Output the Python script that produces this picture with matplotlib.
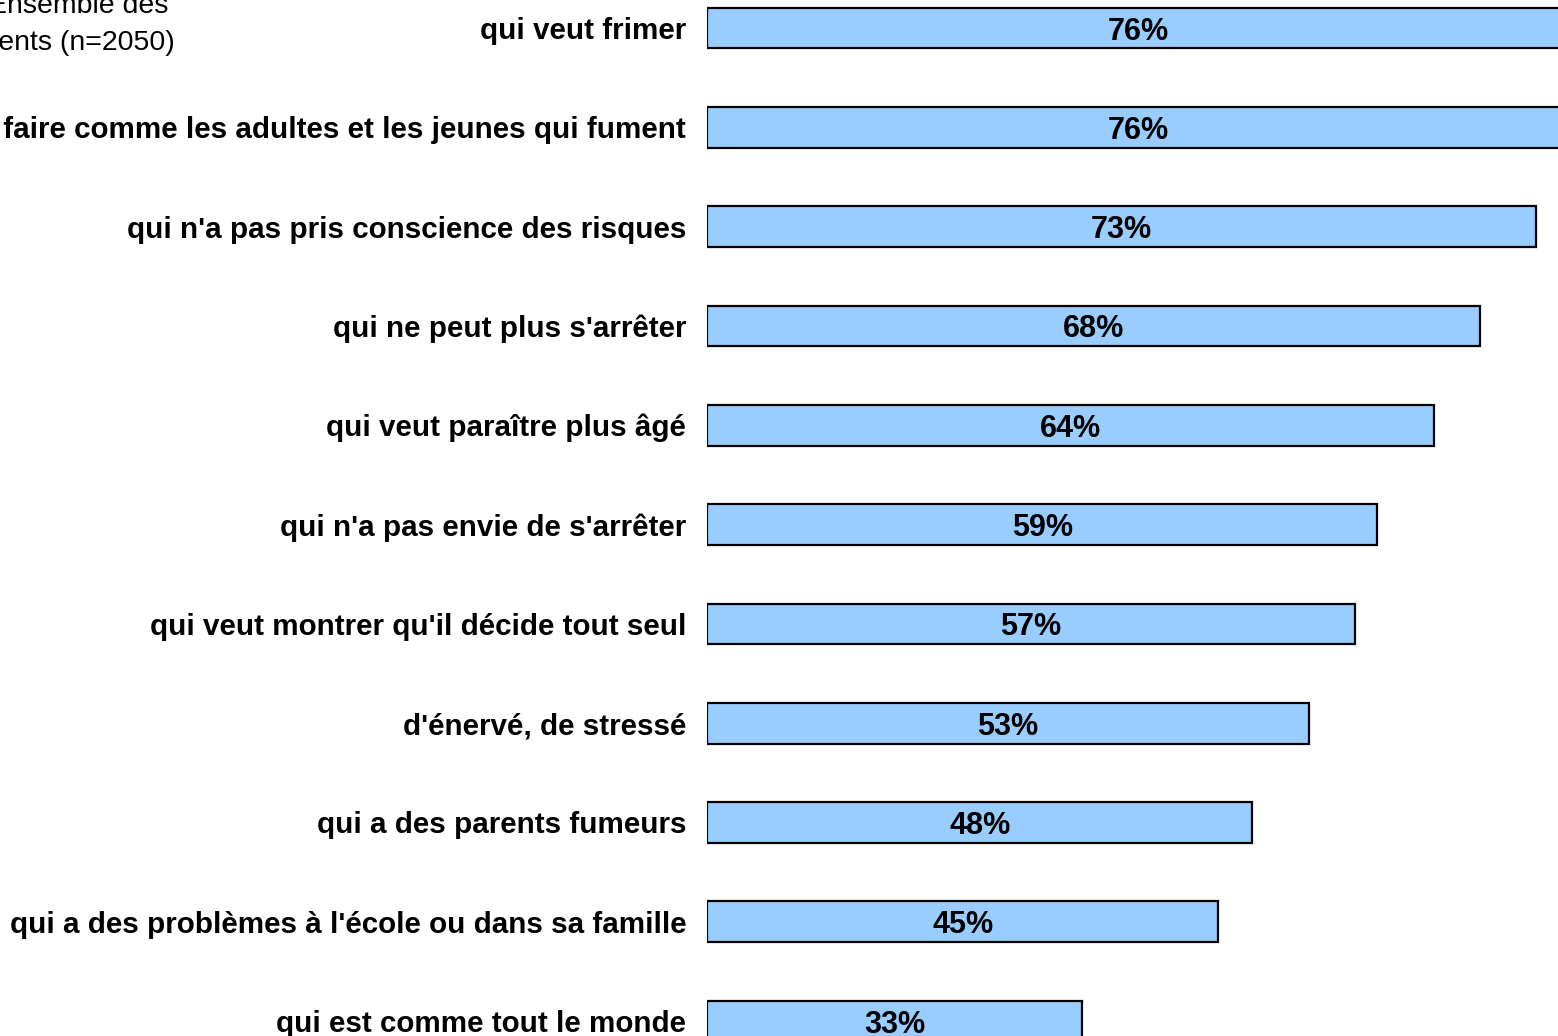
import matplotlib.pyplot as plt
import numpy as np

plt.rcParams['font.family'] = ['Liberation Sans', 'DejaVu Sans']

# Data
labels = ["qui veut frimer",
          "qui veut faire comme les adultes et les jeunes qui fument",
          "qui n'a pas pris conscience des risques",
          "qui ne peut plus s'arrêter",
          "qui veut paraître plus âgé",
          "qui n'a pas envie de s'arrêter",
          "qui veut montrer qu'il décide tout seul",
          "d'énervé, de stressé",
          "qui a des parents fumeurs",
          "qui a des problèmes à l'école ou dans sa famille",
          "qui est comme tout le monde"]
values = [76, 76, 73, 68, 64, 59, 57, 53, 48, 45, 33]

fig = plt.figure(figsize=(15.58, 10.36), dpi=100)
ax = fig.add_axes([707/1558, 0, 1 - 707/1558, 1])

y = np.arange(len(values))
ax.barh(y, values, height=0.41, color='#99CCFF', edgecolor='black', linewidth=1.6)

# percent labels centred in each bar
for yi, v in zip(y, values):
    ax.text(v / 2, yi, f"{v}%", ha='center', va='center_baseline',
            fontsize=22, fontweight='bold', color='black')

ax.set_xlim(0, 74.9)
ax.set_ylim(10.15, -0.282)
ax.set_yticks(y)
ax.set_yticklabels(labels, fontsize=21.3, fontweight='bold')
ax.tick_params(axis='y', length=0, pad=15)
ax.set_xticks([])
for s in ax.spines.values():
    s.set_visible(False)

# title text, partly cut off on the left in the original
fig.text(168/1558, 1 - 6/1036, "Ensemble des", ha='right', va='center', fontsize=20.5)
fig.text(175/1558, 1 - 43/1036, "adolescents (n=2050)", ha='right', va='center', fontsize=20.5)

plt.savefig('out.png', dpi=100)
